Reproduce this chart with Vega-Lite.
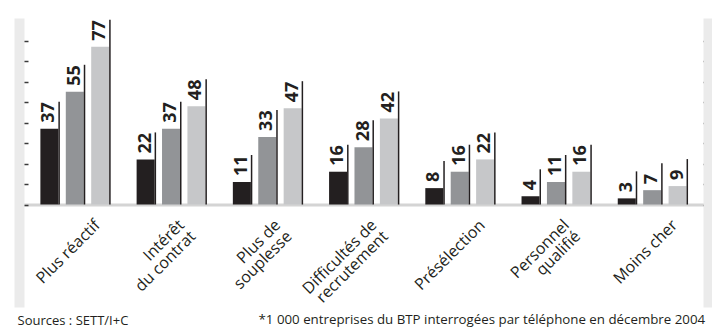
{
  "$schema": "https://vega.github.io/schema/vega-lite/v6.json",
  "width": 689,
  "height": 289,
  "autosize": "none",
  "padding": {"left": 19, "top": 18, "right": 4, "bottom": 21},
  "background": "white",
  "config": {"view": {"stroke": null}, "font": "Open Sans"},
  "data": {"values": [
    {"raison": "Plus réactif", "serie": "s1", "valeur": 37},
    {"raison": "Plus réactif", "serie": "s2", "valeur": 55},
    {"raison": "Plus réactif", "serie": "s3", "valeur": 77},
    {"raison": "Intérêt\ndu contrat", "serie": "s1", "valeur": 22},
    {"raison": "Intérêt\ndu contrat", "serie": "s2", "valeur": 37},
    {"raison": "Intérêt\ndu contrat", "serie": "s3", "valeur": 48},
    {"raison": "Plus de\nsouplesse", "serie": "s1", "valeur": 11},
    {"raison": "Plus de\nsouplesse", "serie": "s2", "valeur": 33},
    {"raison": "Plus de\nsouplesse", "serie": "s3", "valeur": 47},
    {"raison": "Difficultés de\nrecrutement", "serie": "s1", "valeur": 16},
    {"raison": "Difficultés de\nrecrutement", "serie": "s2", "valeur": 28},
    {"raison": "Difficultés de\nrecrutement", "serie": "s3", "valeur": 42},
    {"raison": "Présélection", "serie": "s1", "valeur": 8},
    {"raison": "Présélection", "serie": "s2", "valeur": 16},
    {"raison": "Présélection", "serie": "s3", "valeur": 22},
    {"raison": "Personnel\nqualifié", "serie": "s1", "valeur": 4},
    {"raison": "Personnel\nqualifié", "serie": "s2", "valeur": 11},
    {"raison": "Personnel\nqualifié", "serie": "s3", "valeur": 16},
    {"raison": "Moins cher", "serie": "s1", "valeur": 3},
    {"raison": "Moins cher", "serie": "s2", "valeur": 7},
    {"raison": "Moins cher", "serie": "s3", "valeur": 9}
  ]},
  "encoding": {
    "x": {
      "field": "raison", "type": "nominal", "sort": null,
      "scale": {"paddingInner": 0.2, "paddingOuter": 0.18},
      "axis": {
        "title": "*1 000 entreprises du BTP interrogées par téléphone en décembre 2004",
        "titleX": 239, "titleY": 119, "titleAlign": "left", "titleBaseline": "alphabetic",
        "titleFontSize": 13.3, "titleFontWeight": "normal", "titleColor": "#231f20",
        "offset": -102.5,
        "domainColor": "#d4d4d4", "domainWidth": 3, "domainCap": "square",
        "ticks": false,
        "labelAngle": -45, "labelAlign": "right", "labelBaseline": "top",
        "labelFontSize": 16, "labelColor": "#231f20",
        "labelPadding": 12,
        "labelOffset": {"condition": {"test": "indexof(datum.value, '\\n') >= 0", "value": 5}, "value": 17},
        "labelLineHeight": 16,
        "labelExpr": "split(datum.label, '\\n')",
        "labelOverlap": false, "labelLimit": 0
      }
    },
    "xOffset": {"field": "serie", "type": "nominal", "scale": {"paddingInner": 0.29, "paddingOuter": 0.16}},
    "y": {
      "field": "valeur", "type": "quantitative",
      "scale": {"domain": [-50, 91], "nice": false, "zero": false},
      "axis": {
        "orient": "left", "values": [0, 10, 20, 30, 40, 50, 60, 70, 80],
        "labels": false, "grid": false,
        "tickSize": -9, "tickColor": "#3a3a3a", "tickWidth": 1.5,
        "domainColor": "#ebebeb", "domainWidth": 10,
        "title": "Sources : SETT/I+C", "titleAngle": 0, "titleX": -2, "titleY": 306,
        "titleAlign": "left", "titleBaseline": "alphabetic",
        "titleFontSize": 13, "titleFontWeight": "normal", "titleColor": "#231f20"
      }
    }
  },
  "layer": [
    {
      "mark": {"type": "bar"},
      "encoding": {
        "y2": {"datum": 0},
        "color": {"field": "serie", "type": "nominal", "legend": null,
          "scale": {"domain": ["s1", "s2", "s3"], "range": ["#231f20", "#929497", "#c6c7c9"]}}
      }
    },
    {
      "mark": {"type": "rule", "yOffset": -27, "strokeWidth": 1.5, "color": "#231f20"},
      "encoding": {
        "xOffset": {"field": "serie", "type": "nominal",
          "scale": {"type": "point", "padding": 0, "range": [22.8, 73.6]}},
        "y": {
          "field": "valeur", "type": "quantitative",
          "axis": {
            "orient": "right", "values": [0, 10, 20, 30, 40, 50, 60, 70, 80],
            "labels": false, "grid": false, "title": null,
            "tickSize": -5, "tickColor": "#3a3a3a", "tickWidth": 1.5,
            "domainColor": "#ebebeb", "domainWidth": 10
          }
        },
        "y2": {"datum": 0}
      }
    },
    {
      "mark": {"type": "text", "angle": 270, "align": "left", "baseline": "middle", "dx": 6,
        "fontSize": 18, "fontWeight": "bold", "color": "#231f20"},
      "encoding": {
        "xOffset": {"field": "serie", "type": "nominal",
          "scale": {"type": "point", "padding": 0, "range": [13.1, 63.9]}},
        "y": {"field": "valeur", "type": "quantitative", "axis": null},
        "text": {"field": "valeur", "type": "quantitative"}
      }
    }
  ],
  "resolve": {"axis": {"y": "independent"}, "scale": {"xOffset": "independent"}}
}
